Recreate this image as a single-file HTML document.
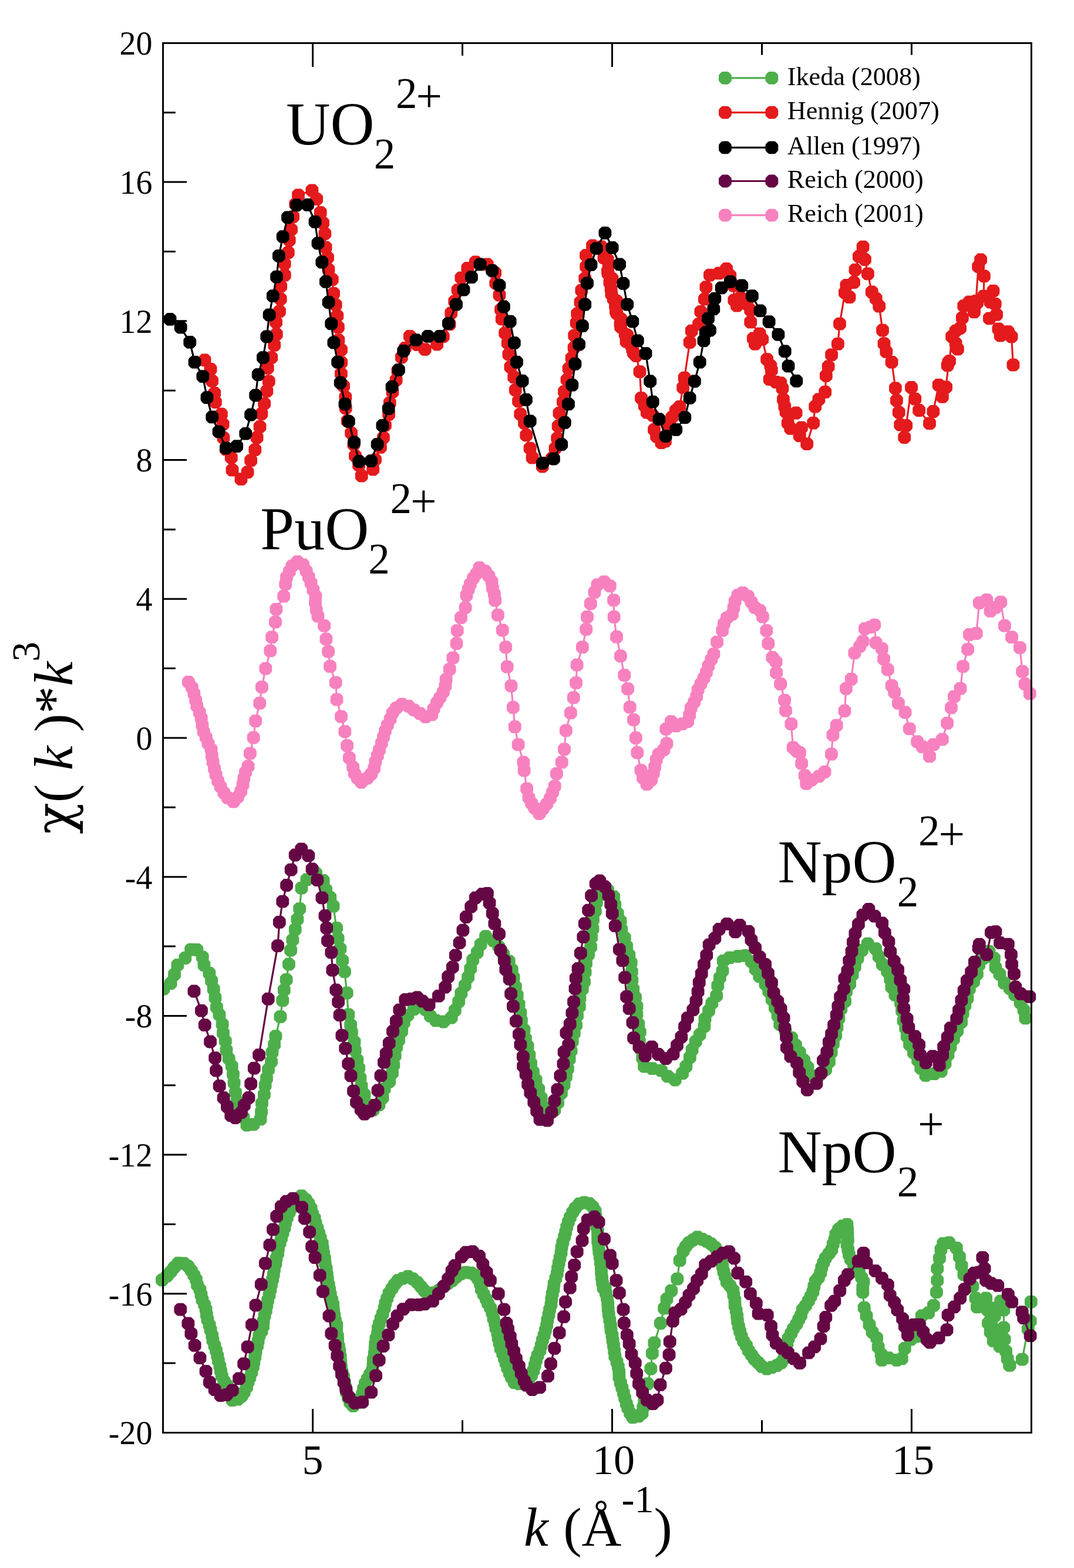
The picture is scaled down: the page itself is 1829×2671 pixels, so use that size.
<!DOCTYPE html>
<html lang="en"><head><meta charset="utf-8"><title>EXAFS spectra</title>
<style>html,body{margin:0;padding:0;background:#fff}svg{display:block}text{font-family:"Liberation Serif","DejaVu Serif",serif;fill:#000}.i{font-style:italic}</style></head><body>
<svg width="1829" height="2671" viewBox="0 0 1829 2671">
<rect width="1829" height="2671" fill="#fff"/>
<defs>
<marker id="m-green" markerUnits="userSpaceOnUse" markerWidth="23.8" markerHeight="23.8" refX="11.9" refY="11.9" orient="0"><polygon points="8.5,5.5 15.3,5.5 18.3,8.5 18.3,15.3 15.3,18.3 8.5,18.3 5.5,15.3 5.5,8.5" fill="#4daf4a" stroke="#4daf4a" stroke-width="9.0" stroke-linejoin="round"/></marker>
<marker id="m-red" markerUnits="userSpaceOnUse" markerWidth="23.8" markerHeight="23.8" refX="11.9" refY="11.9" orient="0"><polygon points="8.5,5.5 15.3,5.5 18.3,8.5 18.3,15.3 15.3,18.3 8.5,18.3 5.5,15.3 5.5,8.5" fill="#e41a1c" stroke="#e41a1c" stroke-width="9.0" stroke-linejoin="round"/></marker>
<marker id="m-black" markerUnits="userSpaceOnUse" markerWidth="23.8" markerHeight="23.8" refX="11.9" refY="11.9" orient="0"><polygon points="8.5,5.5 15.3,5.5 18.3,8.5 18.3,15.3 15.3,18.3 8.5,18.3 5.5,15.3 5.5,8.5" fill="#000000" stroke="#000000" stroke-width="9.0" stroke-linejoin="round"/></marker>
<marker id="m-purple" markerUnits="userSpaceOnUse" markerWidth="23.8" markerHeight="23.8" refX="11.9" refY="11.9" orient="0"><polygon points="8.5,5.5 15.3,5.5 18.3,8.5 18.3,15.3 15.3,18.3 8.5,18.3 5.5,15.3 5.5,8.5" fill="#660745" stroke="#660745" stroke-width="9.0" stroke-linejoin="round"/></marker>
<marker id="m-pink" markerUnits="userSpaceOnUse" markerWidth="23.8" markerHeight="23.8" refX="11.9" refY="11.9" orient="0"><polygon points="8.5,5.5 15.3,5.5 18.3,8.5 18.3,15.3 15.3,18.3 8.5,18.3 5.5,15.3 5.5,8.5" fill="#f781bf" stroke="#f781bf" stroke-width="9.0" stroke-linejoin="round"/></marker>
<clipPath id="cl"><rect x="277.6" y="0" width="1829" height="2671"/></clipPath>
</defs>
<g fill="none" stroke-linejoin="round" stroke-linecap="round">
<polyline clip-path="url(#cl)" stroke="#4daf4a" stroke-width="3.2" marker-start="url(#m-green)" marker-mid="url(#m-green)" marker-end="url(#m-green)" points="278.5,1684.6 290.7,1675 297.1,1659.9 302.4,1644 315.3,1632 325.2,1617.6 335.4,1618 344.8,1630.4 347.5,1643.8 356.4,1657.9 360.1,1670.7 363.8,1685.1 366.5,1699.6 369,1715.9 373.5,1728.5 378.7,1744.8 380,1759.7 383.8,1773.5 385.5,1788.9 389.7,1803.5 394.8,1816 397,1830.1 398.6,1844.6 401,1860.8 403.5,1875.5 408.5,1888.9 414.6,1903.4 420.5,1916.5 431.6,1915.4 443.6,1906.3 445.1,1893.9 446,1879.5 449.9,1864.7 451.6,1848.9 454,1836.8 457,1822 462,1808.3 463.5,1792.5 467.1,1779.3 469.5,1765.1 477.5,1731.8 481.3,1704.1 483.8,1686.5 487.6,1668.9 491.9,1642.5 495.1,1618.6 498.4,1601 502.7,1583.4 506.4,1565.8 510.2,1548.2 513.5,1512.7 522.4,1498.3 538.1,1487.5 550.6,1500 555.1,1515.5 562.3,1528.8 567.6,1543.6 573.1,1580.9 575.6,1598.5 579.4,1616.1 583.1,1636.2 586.9,1655.1 590.7,1691.5 593.3,1728.3 597.1,1745.8 598.8,1758.4 603.5,1774.8 604.7,1789.1 608.4,1805.7 611.2,1819.7 613.4,1836 615.6,1850.1 620.5,1864.3 625,1880.9 635.4,1890.9 645.4,1882 651.6,1870 654.7,1854.6 663.1,1842.5 668,1827.6 670.3,1814.1 672.7,1798.5 675.2,1783.8 679.1,1771.8 684.1,1756.7 687.8,1742.2 694.4,1729.5 704.8,1719.2 715.1,1709.9 724.8,1719.9 732.8,1730.6 742.4,1738.4 755.1,1740.5 768.6,1733.5 774.8,1721.1 781.2,1706.1 785.3,1692.2 791.8,1678.6 797.1,1664.7 801.2,1650 805.2,1635.3 812.8,1622.3 818.6,1608.9 827.1,1595.2 840.4,1602.7 849.4,1612.5 857.3,1625.3 866.7,1637.4 871.8,1651.8 874.7,1665.1 877.8,1680.9 880.7,1695.1 883.6,1710.7 886.4,1725.2 887.9,1738.4 892.4,1754.3 894.9,1769 898.6,1782.1 901.4,1797.1 904,1811.3 907.9,1825.9 912.6,1839.7 917.2,1855 921.6,1870 924.9,1885.1 930.4,1897.4 944.3,1891 950,1878.3 955.9,1862.1 960.6,1847.8 964,1833.8 966.9,1820.6 969.6,1804.2 972.5,1790 974.7,1774 977.8,1760.2 981,1746.4 983,1730 986.9,1714.3 987.4,1700.9 991.7,1685 995,1672.3 996.6,1656.2 998,1640.8 1002,1626.1 1006.1,1613 1007.2,1596.4 1009.5,1582 1010,1566.6 1013.7,1552.1 1015.9,1537.5 1021.6,1524.3 1035,1516.3 1045.2,1527.5 1047.2,1540.9 1051.8,1556.2 1056.5,1568.8 1058.2,1583 1063.8,1597.6 1067.2,1612.2 1071.3,1626.8 1074.7,1639.9 1075.8,1655.1 1076.3,1669.9 1078.2,1684.9 1081.9,1698.9 1084.5,1714.1 1084.4,1727.9 1087.4,1744.3 1089.8,1758 1088.7,1773.4 1091.4,1787.5 1094.2,1802.3 1097.1,1816.5 1110.8,1820.1 1126,1823.7 1137,1833.3 1149.7,1839.5 1162.1,1828.4 1168.3,1816.6 1174.9,1801.1 1178.7,1788.2 1184.7,1774.2 1191.7,1762.5 1199.4,1748.3 1200.5,1735.8 1207.1,1721.7 1212.3,1709 1220.2,1696.1 1222.3,1679.2 1225.9,1665.3 1230.5,1653.6 1231.7,1636.8 1242.5,1631.4 1256.7,1629 1268.7,1627.8 1279.7,1637.9 1286.7,1650.8 1293.3,1663.1 1303.4,1676.3 1309.2,1688.6 1314.6,1702.3 1319.9,1716.6 1324.6,1730.5 1328.2,1744.9 1337.5,1756.3 1348.2,1768 1354.9,1780.4 1361.8,1792.9 1369.2,1806.1 1375.5,1818.2 1381.4,1832 1395.6,1831.5 1406.1,1821.8 1412,1808.6 1415.6,1792.7 1418.9,1777.9 1423.2,1763.8 1425.4,1749.8 1428.4,1734.9 1432.2,1718.7 1439.1,1705.6 1441.1,1689.4 1447.2,1676.2 1451.6,1660.4 1455.9,1646.6 1460.6,1632.4 1468,1618.7 1477.7,1607.6 1491.1,1616.2 1496.7,1629.3 1502.8,1642.9 1511.1,1654.7 1516.2,1668.2 1518.4,1681.5 1524.4,1694.9 1534,1708.6 1536,1721.9 1538.5,1738.6 1542.2,1751.8 1544.7,1765.4 1549.1,1779.3 1555.9,1793.2 1563.1,1806.1 1568.2,1819.6 1576.4,1831.8 1591,1829.2 1602.7,1824.9 1609.5,1811.5 1614.5,1796.7 1618.5,1783.6 1624,1769.6 1630.3,1756.1 1637.1,1741.2 1639.7,1726.7 1643.3,1712.6 1647.4,1700.6 1650.8,1684.6 1658.2,1671.8 1663.9,1659.1 1667.1,1643.9 1674.5,1632.4 1684.5,1621 1692.9,1632.4 1695.5,1648.2 1702.5,1659.6 1710.3,1674.6 1719.9,1684 1728.1,1694.4 1737.5,1708.2 1743.5,1720.5 1746.3,1734.4"/>
<polyline stroke="#4daf4a" stroke-width="3.2" marker-start="url(#m-green)" marker-mid="url(#m-green)" marker-end="url(#m-green)" points="276,2180.3 284.5,2173.5 290.7,2166.5 296.7,2159 303.6,2151.7 313.3,2152.1 320.3,2157 325.8,2164.5 330.4,2172.3 334,2179.7 336,2188.8 340.5,2196.8 342.5,2205.4 344.4,2213.8 348.2,2222.5 350.7,2230.6 351.9,2239.8 353.5,2248.1 356.7,2257.3 358.7,2265.5 361.3,2275 362.5,2283.1 365.4,2292.2 368,2300.5 370.3,2309.5 371.9,2318 374.4,2327.1 376,2335.6 377.8,2343.8 381.5,2352.5 386.5,2359.5 389.8,2368.2 392.3,2376.4 395.8,2385.1 404.8,2383.7 411.4,2378.4 415.7,2371.6 420,2363 422.5,2354.1 425.4,2346.5 428.4,2337.3 430.9,2328.2 432.4,2320.3 434.3,2310.8 435.6,2302 438.1,2292.5 439.5,2284.6 441.3,2275.6 445.6,2267.5 448.1,2259 448.6,2250.6 450.6,2240.9 452.8,2232.5 454.3,2223.5 456.1,2214.9 458.5,2206 460.3,2197 461.9,2188.5 464,2179.8 465.8,2171 467,2162.2 469.4,2152.5 470.5,2143.6 473.1,2135 474,2126.5 476.6,2117.1 479.1,2109.1 481.6,2100.1 484.5,2091.5 486.2,2082.8 488.9,2074.2 492.4,2065.5 496,2058.2 500.5,2049.3 507.1,2043.9 513.4,2037.2 520.7,2043.4 525.6,2050.4 529.7,2058.4 532.1,2067.3 535.6,2075.2 537.6,2083.9 540.4,2092.3 543.1,2100.8 545.6,2108.8 548.7,2118.2 549.8,2126.8 551.2,2135.7 553,2143.9 553.6,2152.2 555.6,2161.1 556.8,2171 557.8,2178.8 559.7,2188.5 561.1,2196.7 562.8,2205.2 565,2214.1 567.2,2222.2 567.9,2231.6 569.3,2240.2 571,2249.4 573.3,2257.1 573.2,2266.3 574.8,2275.8 575.2,2283.9 576.9,2293.4 578.4,2301.7 579.6,2310.9 580.3,2320.1 581.1,2328.6 582.5,2336.6 585.3,2345.4 586.9,2354.6 588.6,2363 589.8,2371.6 592.9,2380.6 596.2,2389 601.5,2394.9 608.6,2388.9 613.3,2382.8 617.2,2374.3 619.2,2365.6 621.9,2356.6 625.8,2348.6 630,2341.2 634.3,2333.5 635.5,2324.5 635.8,2316.1 637.6,2306.3 638.6,2297.6 639.1,2289.7 640.3,2280.1 643,2271.5 643.9,2262.5 646,2254.5 648.6,2246.2 651.7,2237.8 654.7,2228.4 656.3,2220.1 659.1,2211.9 662.5,2202.9 667.4,2195.2 672,2188 677.8,2181.2 686,2177.6 694.7,2174.4 702.8,2178.4 710.8,2184.7 717,2191.8 722.9,2198.9 730.3,2204.7 739,2202.1 748,2197.6 754.8,2191.9 762.7,2186.2 770,2181.3 776.7,2175.4 784.9,2169.8 793.2,2167.4 802.3,2168.3 808.9,2172 814.4,2179 818,2187.1 819.8,2196.3 823.6,2204.6 827.8,2212.7 831,2220.3 835.3,2228 838.3,2236.5 840.5,2246 843,2253.8 844.6,2262.5 847.4,2270.9 848.6,2279.5 850.7,2288 852.8,2297.5 856.2,2305.9 859,2314.1 861.6,2321.8 864.2,2330.2 867.8,2339.1 871,2346.4 876,2355.1 884,2357.2 894.4,2357.1 900.2,2350.6 904.9,2342.9 908.3,2334.8 910.8,2325.8 913,2317.2 915.5,2308.8 919.4,2300.5 921.6,2292.2 923.9,2282.8 926.6,2274.7 928.9,2265.9 931.1,2257.5 932.4,2248.5 934.5,2239.3 936.1,2230.9 938.4,2222.5 939.3,2213.3 940.6,2203.8 942.6,2195.8 943.5,2186.8 946.4,2177.5 948.7,2169.5 950,2160.5 951.7,2151.5 953.5,2143 955.5,2133.8 956.5,2124.6 958.4,2116.2 961.1,2106.8 963.2,2098.9 965.2,2090 967.9,2081.7 970.9,2073.6 975.3,2064.9 979.8,2057.9 986.7,2050.6 994.9,2048.3 1003.2,2050.2 1009.6,2056 1013.5,2063 1014.5,2071.7 1015,2080.3 1016.2,2089.6 1018,2097.4 1018.1,2106.5 1018.2,2115.1 1019.5,2124.3 1020.3,2132.3 1021.7,2140.9 1022.8,2150.3 1023.9,2158.5 1024.1,2167.6 1025,2176.4 1026,2185.2 1027.6,2194.1 1030.7,2193.8 1031.9,2203.1 1034,2211.7 1035.2,2220.3 1035.7,2230 1036.7,2239 1038.3,2248.3 1039.9,2257.3 1040.5,2265.7 1042.4,2274.5 1043.6,2283.6 1045,2292.2 1046.2,2301.7 1047.3,2310.7 1050.5,2319.8 1052.8,2328.4 1054.2,2336.8 1054.4,2346 1056.8,2355.7 1059.3,2364.1 1061.8,2372.8 1064.1,2381.5 1066.7,2390.9 1069.2,2398.5 1073.2,2407.3 1077.7,2414.4 1087.4,2412.4 1093.5,2407.3 1095.3,2397.4 1097.2,2387.6 1103,2357.1 1108.3,2331.5 1110.8,2305.1 1114.3,2287.5 1124.9,2254 1131.2,2228.6 1135.5,2212.8 1143.2,2198.7 1153.3,2178.6 1157.6,2147.2 1163.4,2131.1 1167.7,2123.5 1173.3,2116.9 1180.4,2112.1 1187.8,2107.3 1195.8,2111 1203.8,2114.7 1210.9,2118.8 1218,2125.1 1222.4,2131.9 1227.3,2140 1228.9,2148.1 1230.6,2157.7 1232.4,2166 1234.9,2174.2 1237.7,2183.6 1243.1,2190.2 1248.3,2197.8 1249.4,2205.9 1251.4,2214.8 1251.7,2224.3 1253.7,2232.6 1255.2,2241.8 1256,2250.6 1258,2259.6 1260.1,2267.9 1262.7,2276.4 1266.2,2284.8 1271,2292.2 1274.7,2300.7 1280,2308.2 1284.8,2315.2 1291.3,2321.3 1297.6,2327.9 1305.8,2331.6 1314.3,2329.2 1322.9,2326.1 1330.3,2321.4 1335.2,2314.3 1336.9,2305.4 1338.3,2297.2 1340.4,2288.5 1342.6,2279.8 1347.2,2271.2 1350.9,2263.5 1356.4,2255.7 1360.3,2247.7 1364,2240.3 1366.7,2230.8 1371.9,2224 1376.8,2216 1380.5,2208.5 1384.4,2200.4 1386.3,2191.2 1388.8,2182.4 1393.8,2176.2 1397.4,2168.2 1399.3,2159.2 1402.3,2150.8 1405.7,2143.3 1411.8,2135.2 1416.4,2128.7 1418.7,2119.5 1421.5,2111.5 1423.4,2102.7 1428.2,2094 1434.9,2088.4 1442.4,2085.8 1443.1,2094.2 1443.4,2103 1443.8,2112.3 1442.5,2120.1 1444.2,2128.7 1445.9,2137.2 1448.8,2145.2 1453.9,2153.6 1458.5,2161.2 1463,2168.2 1467.4,2176.4 1470.5,2183.4 1469.2,2193 1469.3,2201.1 1471.7,2227.6 1475.5,2241.5 1480.5,2256.6 1485.5,2269.1 1493.1,2279.2 1495.6,2294.3 1500.6,2306.8 1501.9,2316.9 1513.2,2313.1 1527,2316.9 1535.8,2314.4 1540.8,2296.8 1550.9,2281.7 1561,2276.7 1569.8,2241.5 1581.1,2236.4 1589.9,2223.9 1594.9,2201.2 1596.2,2181.1 1596.2,2161 1599.9,2143.4 1602.4,2128.3 1606.2,2118.3 1616.3,2117 1628.8,2125.8 1633.9,2140.9 1637.6,2156 1641.4,2171.1 1656.5,2191.2 1661.5,2211.3 1664,2226.4 1679.1,2211.3 1681.6,2231.4 1682.9,2254 1686.7,2269.1 1691.7,2284.2 1704.3,2216.3 1709.3,2231.4 1709.3,2261.6 1710.6,2281.7 1713.1,2301.8 1715.6,2314.4 1719.4,2325.7 1693.8,2242 1697.2,2266.1 1700.7,2283.3 1702.7,2293.6 1693.8,2228.2 1686.9,2248.9 1719.4,2325.7 1740.7,2315.6 1750.8,2264.1 1754.6,2250.3 1755.8,2217.6"/>
<polyline stroke="#e41a1c" stroke-width="3.2" marker-start="url(#m-red)" marker-mid="url(#m-red)" marker-end="url(#m-red)" points="348.6,613.5 358.6,628.8 361.1,648.9 365.3,669.9 366.9,685 376.9,705.5 379.7,722.6 380.5,745.6 384.8,765.3 393.8,779.5 395.5,800.6 410.5,816.1 421.6,804.3 427.2,784.3 434.3,766.2 437.6,745.3 442.6,727 445.4,704.8 450.2,687.5 454.4,666.2 457.8,649.6 455.8,627 462.3,609 467.2,587.9 470.8,569.4 470.1,549 476,530.4 477.7,509.3 478.2,487.7 484.8,468.6 484.7,449.4 490.8,430.2 492.7,409.2 496,391 499.1,369.2 503.2,347.8 508,332.4 531.4,324.4 539.2,339.1 545.7,362.2 550,379.8 553.3,398 554.6,421.4 558,438.8 559.4,459 565.8,476.1 568.1,499.9 571.7,519.3 574.3,538 575.9,557.3 576.4,579.4 581,595.9 581.2,617.3 580.9,636.6 585.1,657.6 588.3,676.6 588.7,695.2 591.7,716.9 598.1,737.7 602.4,757.2 604.9,776.7 611.1,792.5 615.8,810.5 635.2,799.5 639,783 647.9,761.9 652.9,745.3 655.9,724.4 662.1,705.8 663.8,686.4 668.4,667.7 674.6,647.4 677.4,631.5 683.8,608.7 689.9,592.8 697.9,572.9 710.2,587 723.7,595.2 744.2,586.5 754.8,573.1 765.6,552.3 768.3,533.4 774.2,513.3 779.6,494.1 785.4,473.3 796.3,456.9 809.9,446.4 829.8,450.5 843.1,464.8 844.3,482.5 850.5,502.7 853,527.4 854.7,543.4 860.2,567.3 864.7,584.5 866.4,603.6 869.4,625.1 875.2,642.3 877.8,664.4 883,683.4 886.2,705.3 893,720.7 896.3,741.3 902.6,763.7 906.6,779.6 923.7,794.5 939.9,780.8 945.5,763.9 949.2,746.7 950.6,726 952.4,703.8 958.9,684.6 961,667.2 965.5,647 968.6,627.9 973.6,610 977.6,592.3 978.2,571.6 981.7,549.9 983.2,534.5 988.4,514.9 990.3,494.7 996.2,474.3 998.2,454.2 998,435 1009,418.5 1024.2,420.5 1028.5,439.3 1034.7,442 1036.7,449.8 1034.9,462.2 1035.6,466.1 1042.5,474.9 1038.4,481.2 1040.6,492.4 1041.4,501.1 1044.6,509.1 1049.9,512.7 1048,521.3 1048.9,530 1050.3,533.9 1057.4,543.3 1056.5,551.9 1057.2,557 1064.6,569.3 1068.3,571.2 1066.5,581.6 1074.8,588.1 1077.3,595.5 1078.9,601.4 1083.4,606.2 1089.5,633.1 1092,678.1 1097.7,691.1 1101.8,702.6 1111.6,707.5 1114,732 1118.1,743.5 1126.3,754.1 1132.9,751.7 1137.8,725.5 1144.3,710.8 1150.8,699.3 1157.4,692.8 1163.1,660.1 1165.6,643.7 1174.6,583.2 1177.8,563.6 1190.1,552.1 1193.4,530.8 1199.9,509.6 1202.4,489.1 1208.9,468.7 1224.4,465.4 1237.1,458 1243.3,469.6 1249.5,486.6 1250.3,511.4 1261.1,506.8 1254.9,520.7 1272,517.6 1278.2,528.5 1278.2,548.6 1293.7,568.7 1282.8,576.5 1285.9,585.8 1298.3,578 1306.1,612.1 1312.3,623 1313.8,630.7 1310.7,646.2 1321.6,650.8 1329.3,652.4 1332.4,661.7 1333.9,680.3 1336.3,692.7 1338.6,702 1355.6,703.5 1341.7,720.6 1346.3,729.9 1364.9,728.3 1361.8,742.3 1374.2,756.2 1385.1,720.6 1388.2,692.7 1394.4,680.3 1405.2,667.9 1406.8,640 1410.6,624.5 1416.1,604.4 1426.9,585.8 1430,551.7 1438.9,498.6 1446.5,506.2 1441.4,486 1454,481 1456.5,459.6 1462.8,437 1469.6,420.7 1472.9,442 1477.9,466.4 1484.7,497.4 1491.7,508.7 1497.2,521.7 1503,562.7 1505.5,585.4 1509.3,599.2 1518.6,616.8 1524.9,661.3 1526.9,682.1 1530.7,702.3 1533.2,723.6 1540.2,745 1543.2,724.9 1552,660 1558.3,679.6 1565.1,699 1583,721.1 1589.3,701 1598.6,655.8 1604.8,675.9 1611.1,659.5 1615.4,616.8 1613.7,622.4 1617,615.1 1621.1,573.4 1627.6,584.8 1630.9,594.6 1627.6,563.6 1635,559 1638.8,541.4 1641.3,521.2 1651.4,518.7 1658.9,531.3 1663.9,516.2 1658.7,529.2 1650.5,514.5 1662,512.9 1666.1,454 1670.1,442.5 1675.9,470.3 1675.1,504.7 1691.4,495.7 1686.5,514.5 1694.7,517.8 1697.1,535.8 1684.9,542.3 1700.4,560.3 1703.7,571.7 1716.8,565.2 1722.5,573.4 1725.4,621.6"/>
<polyline stroke="#000000" stroke-width="3.2" marker-start="url(#m-black)" marker-mid="url(#m-black)" marker-end="url(#m-black)" points="289.6,543.9 307.7,557.7 323.3,582.8 331.6,616.8 345.4,641.2 352.5,677.1 361.3,710.3 372.6,735.4 384.9,763.4 403.2,760.1 418.3,738.7 427.1,706.5 435.2,673.4 439.7,638.2 448,609.2 454.3,573.3 458.6,536.3 464.8,504.1 471.1,471.7 474.9,435.8 481.7,403.1 490,370.4 505.1,349.5 523.9,349 536.5,377.9 541.5,414.4 548.3,446.6 554.9,479.8 559.6,515 564.2,551.4 568.4,583.6 575.2,616.8 579.7,652 587.5,688.4 593.8,717.9 603.1,753.3 611.4,786 632,785.2 642.6,756.8 651.4,724.9 661.7,696 667.6,659 678.9,630.1 687.2,597.9 708.6,579.1 728.7,572.8 748.8,572.8 763.9,550.9 777,518.7 789.5,493.6 802.9,472.2 817.7,450.3 838.1,460.9 850.4,486 857.9,522.5 868.7,547.6 875.8,584.1 880,616.8 889.6,649 895.9,680.9 902.7,717.3 924,789 942.9,781.5 956.2,757.1 961.8,719.9 968,688.4 974.3,655.8 979.4,619.8 986.1,586.6 991.9,555.2 996.2,518.7 1000,482.3 1006.5,450.8 1015.8,423.2 1030.4,396.8 1042.6,421.9 1055.1,450.3 1061.4,482.8 1068.2,518.7 1077.3,547.6 1085.8,580.3 1099.6,602.2 1107.2,649.5 1111.7,684.7 1122.5,714.1 1133.6,743 1151.2,731.9 1166.3,711.1 1174.6,677.9 1182.9,649.5 1191.7,616.8 1198.4,580.3 1201.7,566.5 1209,562.7 1206,542.6 1215.3,526.3 1217.3,508.7 1228.6,490.3 1243.7,479.8 1263.3,486.5 1280.9,504.1 1294.5,529.3 1309.6,548.1 1325.4,569.8 1336.7,598.4 1342.5,623.6 1356.3,649"/>
<polyline stroke="#660745" stroke-width="3.2" marker-start="url(#m-purple)" marker-mid="url(#m-purple)" marker-end="url(#m-purple)" points="330.5,1688.5 343,1721.7 348.8,1746.1 358.1,1774.5 366.2,1802.1 368.2,1823.5 373.7,1849.9 380.7,1870 387,1885.1 393.3,1900.2 400.8,1904 410.9,1895.2 415.9,1882.6 423.5,1870 427.2,1846.1 432.8,1819.7 441.1,1797.1 456.7,1701.6 473,1611.1 475.8,1570.8 481.3,1535.7 488.1,1508 495.6,1481.6 502.7,1456.5 513.2,1446.4 525.3,1457.7 531.6,1480.3 540.4,1499.2 548.4,1529.4 553.5,1560 556.2,1580.9 558,1602.3 564.3,1622.4 566.3,1652.6 572.3,1686.5 576.1,1706.6 578.6,1729.2 582.4,1763.9 588.2,1785.8 593.2,1812.2 597.5,1832.3 602,1858.7 607,1877.6 614.6,1890.1 620.8,1897.7 629.6,1892.7 638.4,1882.6 643.5,1857.5 648.5,1832.3 653.9,1809.7 657.7,1794.6 662.7,1777 669,1756.9 674.8,1739.3 680.3,1720.4 690.3,1702.8 700.4,1701.6 710.5,1699.1 719.3,1705.4 730.6,1711.6 746.9,1696.6 758.2,1681.5 763.2,1663.9 770.8,1647.5 775.8,1627.4 782.6,1606 788.4,1584.7 793.9,1562 802.2,1544.5 809.8,1529.4 821.1,1523.1 829.9,1521.8 833.6,1538.2 838.7,1555.8 842.4,1573.4 850,1591 852.5,1618.6 858.8,1636.2 861.3,1651.3 867.6,1667.6 870.1,1692.8 873.9,1714.2 878.9,1739.3 883.9,1761.9 886.4,1779.5 890.8,1799.8 891.1,1816 895.6,1829.9 899.1,1847.1 903.3,1861.3 909.3,1877.4 914.2,1892.6 919.5,1906.8 932,1908.7 939.3,1894.5 944.3,1875.1 949.3,1856.2 954.3,1832.3 959.4,1812.2 960.6,1792.1 968.2,1779.5 964.4,1759.4 970.7,1744.3 974.4,1725.5 977,1706.6 979.5,1684 980.7,1666.4 984.5,1650 988.8,1623.6 993.3,1596 995.8,1573.4 1002.1,1550.7 1007.1,1525.6 1014.7,1505.5 1021.3,1500.5 1030.1,1510.5 1036.4,1525.6 1040.2,1540.7 1042.7,1555.8 1047.7,1577.1 1054.8,1617.4 1060.3,1636.2 1064.1,1665.1 1067.1,1697.8 1071.6,1717.9 1077.4,1741.8 1079.1,1768.2 1088.4,1783.4 1098.7,1798.6 1110,1783.3 1121.1,1796 1133.8,1803.1 1146.5,1795.4 1153,1780.6 1160.3,1766.4 1166,1748.6 1170.9,1734.2 1180.3,1720.2 1185.5,1704.8 1188.6,1689.1 1190.7,1673.6 1194.7,1658.5 1198.9,1642.8 1203.3,1627.1 1207.6,1609.4 1217.3,1598.4 1224.5,1583 1238.1,1573.9 1252.2,1587.4 1259.6,1576 1274.6,1586.7 1279.4,1601.1 1286.1,1614.6 1293.8,1630.4 1303.1,1642.8 1308,1658 1314,1674 1317.6,1691.2 1324.3,1705.7 1329.6,1718.4 1334.6,1734 1336.5,1751 1339.1,1766.6 1339.8,1784.5 1346.4,1799.6 1357.1,1811 1361.2,1826.8 1367.3,1842.3 1374.7,1856.5 1390.4,1845.7 1398.3,1827.9 1401.9,1806.7 1408.3,1791.8 1411.8,1775.1 1416.1,1761.2 1420.1,1746 1424.7,1728.8 1427.4,1714 1431.1,1698.2 1437,1684.5 1438.3,1666.9 1443.4,1653.6 1446.2,1636.7 1450.5,1620.7 1452.9,1604.9 1456.4,1590 1461.9,1574.4 1469.4,1558.6 1479.4,1548.8 1489.5,1560.6 1502.2,1572.5 1506.8,1588.8 1513.4,1604.1 1516.2,1621.2 1522.7,1637.5 1529.1,1652.2 1533.3,1669.3 1539.3,1684.9 1538.1,1700.8 1539.2,1717.5 1544.6,1735.4 1547.4,1750.1 1558.1,1765.4 1565.1,1779.8 1566.7,1796.3 1576.8,1810.4 1588.2,1799.4 1599.7,1814.5 1605.2,1797.4 1607.1,1783.1 1613.6,1766.8 1618.8,1751.1 1629.2,1735.1 1633,1720.9 1637.3,1703.9 1641.6,1687.4 1646.8,1670.6 1654.1,1655.6 1659.8,1638.8 1666.6,1614.8 1667.8,1608.6 1680.4,1626.2 1687.9,1588.4 1695.5,1587.2 1703,1606 1716.8,1608.6 1721.9,1626.2 1723.1,1642.5 1726.9,1658.8 1729.4,1681.5 1738.2,1692.8 1753.3,1697.8"/>
<polyline stroke="#660745" stroke-width="3.2" marker-start="url(#m-purple)" marker-mid="url(#m-purple)" marker-end="url(#m-purple)" points="307.3,2230.7 320.4,2254.5 325.4,2271.6 331.7,2291.8 340.5,2313.1 350.6,2335.8 356.9,2354.6 365.7,2367.2 375.7,2377.2 385.8,2376 395.8,2368.4 407.1,2348.3 415.2,2323.2 421.7,2294.3 429,2256.6 435.5,2223.4 444.8,2187.9 451.9,2152.2 459.4,2120.8 465,2094.4 471.2,2071.8 478.8,2055.4 487.6,2046.6 498.9,2041.6 514,2056.7 519,2075.5 527.1,2098.7 531.1,2123.3 536.6,2142.2 544.7,2172.3 549.9,2200 560.5,2241.5 564.3,2271.6 570.6,2291.8 574.3,2309.4 578.1,2327 581.9,2340.8 585.6,2354.6 589.4,2367.2 594.4,2379.7 604.5,2389.8 617.1,2388.5 632.1,2371.7 640.1,2343.3 645.6,2316.9 652.6,2293 661.4,2274.2 669,2255.3 676.5,2241.5 686.6,2230.2 700.4,2222.6 713,2222.6 723,2221.4 736.9,2216.3 746.9,2203.8 755.7,2191.2 763.2,2178.6 769.5,2164.8 774.6,2156 785.9,2140.9 793.4,2133.4 804.7,2132.1 816,2139.6 822.3,2153.5 828.6,2167.3 834.9,2181.1 848.7,2203.8 858.3,2230.7 862.6,2254 865.1,2264.1 868.8,2276.7 871.4,2289.2 875.1,2301.8 878.9,2314.4 883.9,2327 887.7,2339.5 892.7,2352.1 896.5,2359.6 906.6,2367.2 919.1,2363.4 933,2344 938,2323.2 944.3,2296.8 952.6,2270.4 960.1,2243.2 963.1,2217.6 970.7,2193.7 973.2,2174.8 978.2,2155.2 982.7,2132.1 991.5,2113.2 993.8,2093.1 1000.8,2078.1 1012.1,2073 1019.6,2081.8 1028.9,2110.7 1038.9,2138.4 1042.7,2152.2 1049.5,2181.1 1054.8,2202.5 1061.5,2230.7 1062.8,2254 1067.8,2274.2 1071.6,2289.2 1075.4,2306.8 1081.7,2321.9 1084.2,2339.5 1087.9,2357.1 1094.2,2372.2 1101.8,2384.8 1111.8,2391.1 1119.4,2384.8 1124.4,2358.9 1133.9,2330.7 1139.5,2307.6 1140.7,2285.5 1145.8,2250.3 1149.5,2236.4 1159.6,2230.2 1167.1,2218.8 1173.4,2206.3 1181,2195 1187.2,2181.1 1194.8,2169.8 1201.1,2154.7 1211.1,2148.4 1221.2,2140.9 1231.2,2134.6 1241.3,2132.1 1250.1,2143.4 1256.4,2168.6 1270.2,2183.6 1277.8,2203.8 1287.8,2220.1 1291.6,2237.7 1306.7,2240.2 1313,2259.1 1315.5,2274.2 1321.8,2288 1331.8,2296.8 1341.9,2304.3 1351.9,2314.4 1362,2321.9 1377.1,2304.3 1387.1,2294.3 1397.5,2280.4 1402.6,2259.1 1406.3,2244 1415.1,2223.9 1421.4,2216.3 1430.2,2198.7 1437.8,2181.1 1444.1,2171.1 1461.7,2148.4 1470.5,2134.6 1475.5,2151 1490.6,2164.8 1501.9,2177.4 1511.9,2188.7 1515.7,2206.3 1523.2,2218.8 1528.3,2231.4 1537.1,2246.5 1540.8,2259.1 1545.9,2274.2 1555.9,2256.6 1566,2256.6 1572.3,2269.1 1578.6,2281.7 1583.6,2286.7 1598.7,2279.2 1612.5,2265.4 1614.5,2240.2 1625.1,2226.4 1635.1,2211.3 1642.7,2196.2 1651.5,2178.6 1659,2168.6 1666.6,2167.3 1676.6,2161 1673.3,2142.2 1679.1,2181.1 1687.9,2186.2 1699.2,2189.9 1716.8,2205 1723.1,2217.6 1740.7,2235.2 1743.2,2245.2 1754.6,2275.4"/>
<polyline stroke="#f781bf" stroke-width="3.2" marker-start="url(#m-pink)" marker-mid="url(#m-pink)" marker-end="url(#m-pink)" points="321,1162 326.9,1171 330.4,1181.7 333.3,1192.9 335.3,1202.5 339.8,1213.6 342.8,1223.6 344.5,1235.5 346.7,1246.5 350.8,1255.8 354.5,1266.5 359.6,1276.5 360.9,1287.4 362.6,1298 365.1,1309.3 367.7,1319.6 371.2,1330.4 375.6,1340 381.4,1350.6 387.8,1358.9 397.7,1365.6 404.9,1357.6 410.2,1347.9 413.6,1336.8 415.3,1326.2 418.1,1315.5 422.6,1305.3 425.9,1283.4 431.7,1256.5 435.2,1228.1 442.2,1197.9 446,1170.3 452.3,1138.8 460.3,1108.7 463.1,1085.3 468.9,1059.6 470.4,1037.8 483.2,1015.7 486.2,995.2 487.9,983.7 492.8,973.4 497.5,964.1 506.6,956.8 516.2,962.1 521.5,972.6 525.7,982.8 529.6,993.1 533.3,1004.7 537.4,1015.5 537,1026.5 538.8,1039 541.4,1049.6 552.1,1065.9 555.4,1088.6 559.1,1109.9 562.1,1135.1 571.7,1162.7 573.5,1191.6 581,1220.6 587.3,1246.2 591.1,1270.1 594.8,1290.9 601.1,1306.9 603.8,1317.5 608.7,1325.3 615.4,1332.5 625.5,1325.6 632.2,1318.4 637.2,1308.6 639.4,1297.5 642.8,1287.1 646,1277.4 649.8,1265.9 652.9,1255.7 655.9,1245 659.9,1235 664.6,1224.8 668.5,1214.5 674.8,1206.1 684.4,1199.6 695.7,1203 705,1209.4 715.2,1215.4 724.7,1221.1 735.3,1217.3 738.6,1207.7 743.9,1197.2 749.3,1188.4 754.9,1178.7 758.4,1168.5 759.6,1157.7 765.7,1140.1 771.4,1120.7 777.5,1096.1 778.7,1074.2 785,1052.1 792.6,1035 794.4,1014.2 797.7,1003.9 800.8,995.2 806,984.9 811.6,977 816.5,967.2 826.3,973 832.4,981.2 837.6,990.8 838.9,1002 841.8,1011.9 843.2,1022.6 847.9,1047.6 855.7,1073.5 861.2,1102.4 863.7,1135.8 870.5,1168.3 873.8,1205 876.8,1238.2 882.6,1268.3 891.4,1298.5 892.6,1312.3 897.1,1343.7 900.5,1358.9 905.2,1368.4 910.6,1376.7 918.4,1385.8 924.6,1377.8 931.1,1369.5 937.1,1359.7 941,1349.6 944.7,1339.3 947.9,1317.9 956.7,1298.5 961,1276.4 963.8,1244.4 971.8,1214.3 976.8,1188.4 981.1,1163.2 982.6,1132.6 991.9,1102.4 998.2,1072.2 1000,1050.8 1005.8,1028.2 1012.5,1008.8 1017.4,996.2 1028.9,991.2 1038.7,998.1 1045.1,1022.4 1045.6,1050.8 1050.1,1084.8 1056.9,1117.5 1063.2,1150.2 1069,1173.3 1072.7,1204.7 1079,1226.1 1082.8,1257 1085.3,1282.1 1091.4,1312.1 1095,1325.1 1101.6,1335.8 1109.2,1328.4 1112.7,1317.3 1115,1306.7 1117.7,1294.2 1121.5,1284.8 1130.4,1277.1 1135.4,1266.7 1134.3,1241.9 1142.9,1229.1 1151.3,1236.7 1161.8,1233.2 1171.1,1229 1174.2,1217.9 1176.7,1206.2 1182.1,1196 1186.2,1186.3 1188.6,1175 1193.4,1165 1198.6,1155.2 1202.9,1145.1 1206.4,1134.4 1211.2,1123.5 1215.4,1114.2 1221.1,1093.6 1230.3,1073.9 1232.9,1062.7 1238.1,1052.4 1246.9,1046.2 1249.5,1035.3 1251.7,1024.4 1256.4,1013.9 1264.8,1009.8 1273.9,1015.9 1279.4,1025.5 1285.5,1034.9 1294.1,1040 1298.9,1050.7 1305.3,1074.2 1308.3,1096.1 1315.4,1120 1321.6,1127.5 1322.1,1145.9 1329.2,1165.2 1336.2,1192.9 1338,1210.5 1347.3,1233.1 1350.6,1273.4 1356.8,1279.6 1361.9,1282.1 1365.1,1300.3 1370.7,1321.1 1373.2,1334.9 1382,1328.7 1394.6,1322.4 1404.6,1314.8 1415.9,1284.7 1418.4,1252 1424.7,1235.6 1438.4,1211 1440.9,1172.8 1449.7,1156.9 1455.3,1112.4 1464.1,1101.1 1469.6,1092.3 1472.9,1071 1481.7,1068.4 1489.2,1064.7 1491.7,1094.8 1501.8,1104.9 1505,1122.5 1511.8,1140.6 1518.6,1167.8 1523.1,1179.1 1529.9,1197.9 1541.5,1213.5 1548.8,1241.4 1562.1,1263.3 1570.9,1272.1 1583,1288.4 1589.8,1268.3 1604.8,1259.5 1613.1,1231.9 1619.9,1205.5 1625,1186.6 1635.5,1172.8 1640,1135.1 1648.1,1106.2 1650.9,1081 1662.7,1079 1667.7,1027 1680.3,1021.9 1686.6,1040.8 1695.6,1034.8 1704.2,1025.7 1710.9,1065.9 1723,1085.3 1736.8,1103.1 1741.1,1143.9 1745.6,1165.2 1753.7,1181.6"/>
</g>
<g stroke="#000" fill="none" stroke-linecap="butt">
<rect x="277.6" y="73.4" width="1478.8" height="2367.1" stroke-width="3"/>
<path stroke-width="3" d="M532.6,2440.5v-40.5M532.6,73.4v40.5M1042.5,2440.5v-40.5M1042.5,73.4v40.5M1552.4,2440.5v-40.5M1552.4,73.4v40.5M787.5,2440.5v-21.3M787.5,73.4v21.3M1297.5,2440.5v-21.3M1297.5,73.4v21.3M277.6,2203.8h40.5M277.6,1967.1h40.5M277.6,1730.4h40.5M277.6,1493.7h40.5M277.6,1257.0h40.5M277.6,1020.2h40.5M277.6,783.5h40.5M277.6,546.8h40.5M277.6,310.1h40.5M277.6,2322.1h21.3M277.6,2085.4h21.3M277.6,1848.7h21.3M277.6,1612.0h21.3M277.6,1375.3h21.3M277.6,1138.6h21.3M277.6,901.9h21.3M277.6,665.2h21.3M277.6,428.5h21.3M277.6,191.8h21.3"/>
</g>
<g font-size="56" text-anchor="end">
<text x="259.5" y="2460.3">-20</text>
<text x="259.5" y="2223.6">-16</text>
<text x="259.5" y="1986.9">-12</text>
<text x="259.5" y="1750.2">-8</text>
<text x="259.5" y="1513.5">-4</text>
<text x="259.5" y="1276.8">0</text>
<text x="259.5" y="1040.0">4</text>
<text x="259.5" y="803.3">8</text>
<text x="259.5" y="566.6">12</text>
<text x="259.5" y="329.9">16</text>
<text x="259.5" y="93.2">20</text>
</g>
<g font-size="72" text-anchor="middle">
<text x="532.6" y="2511">5</text>
<text x="1045.0" y="2511">10</text>
<text x="1554.9" y="2511">15</text>
</g>
<text x="892" y="2633.4" font-size="94"><tspan class="i">k</tspan><tspan dx="2"> (Å</tspan><tspan font-size="66" dy="-57">-1</tspan><tspan dy="57">)</tspan></text>
<text transform="translate(122.6,1412.5) rotate(-90)" font-size="94"><tspan x="-8.3" font-size="88" font-family="DejaVu Serif,serif">χ</tspan><tspan x="45.5">( </tspan><tspan class="i">k</tspan> )*<tspan class="i">k</tspan><tspan font-size="68" dy="-55.4">3</tspan></text>
<rect x="1212" y="93.6" width="400" height="292" fill="#fff"/>
<g font-size="44.2">
<polyline fill="none" stroke="#4daf4a" stroke-width="3.2" marker-start="url(#m-green)" marker-end="url(#m-green)" points="1234.9,132.8 1314.4,132.8"/>
<text x="1340.8" y="144.6">Ikeda (2008)</text>
<polyline fill="none" stroke="#e41a1c" stroke-width="3.2" marker-start="url(#m-red)" marker-end="url(#m-red)" points="1234.9,191.6 1314.4,191.6"/>
<text x="1340.8" y="203.4">Hennig (2007)</text>
<polyline fill="none" stroke="#000000" stroke-width="3.2" marker-start="url(#m-black)" marker-end="url(#m-black)" points="1234.9,251.3 1314.4,251.3"/>
<text x="1340.8" y="263.1">Allen (1997)</text>
<polyline fill="none" stroke="#660745" stroke-width="3.2" marker-start="url(#m-purple)" marker-end="url(#m-purple)" points="1234.9,308.5 1314.4,308.5"/>
<text x="1340.8" y="320.3">Reich (2000)</text>
<polyline fill="none" stroke="#f781bf" stroke-width="3.2" marker-start="url(#m-pink)" marker-end="url(#m-pink)" points="1234.9,366.6 1314.4,366.6"/>
<text x="1340.8" y="378.4">Reich (2001)</text>
</g>
<text x="487.3" y="245.8" font-size="104">UO<tspan font-size="73" x="636.8" dy="41">2</tspan><tspan font-size="73" x="674" dy="-103.3">2</tspan><tspan font-size="79" dx="-2" dy="6.5">+</tspan></text>
<text x="443.3" y="935.8" font-size="104">PuO<tspan font-size="73" x="627.3" dy="41">2</tspan><tspan font-size="73" x="664.5" dy="-103.3">2</tspan><tspan font-size="79" dx="-2" dy="6.5">+</tspan></text>
<text x="1324.5" y="1502.7" font-size="104">NpO<tspan font-size="73" x="1527.7" dy="41">2</tspan><tspan font-size="73" x="1564.1" dy="-103.3">2</tspan><tspan font-size="79" dx="-2" dy="6.5">+</tspan></text>
<text x="1324.5" y="1996.5" font-size="104">NpO<tspan font-size="73" x="1527.7" dy="41">2</tspan><tspan font-size="79" x="1563.1" dy="-96.8">+</tspan></text>
</svg></body></html>
